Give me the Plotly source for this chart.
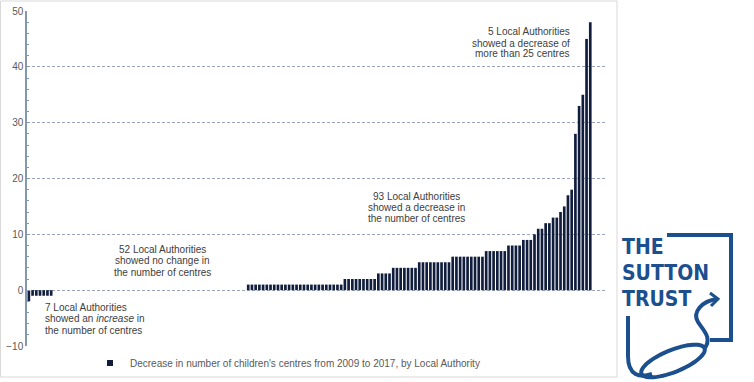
import numpy as np
import plotly.graph_objects as go

# ---------------- data ----------------
# Change (decrease) in number of children's centres 2009-2017, one value per Local Authority, sorted
increase_las = [-2, -1, -1, -1, -1, -1, -1]
no_change_las = [0, 0, 0, 0, 0, 0, 0, 0, 0, 0, 0, 0, 0,
                 0, 0, 0, 0, 0, 0, 0, 0, 0, 0, 0, 0, 0,
                 0, 0, 0, 0, 0, 0, 0, 0, 0, 0, 0, 0, 0,
                 0, 0, 0, 0, 0, 0, 0, 0, 0, 0, 0, 0, 0]
decrease_las = [1, 1, 1, 1, 1, 1, 1, 1, 1, 1, 1, 1, 1,
                1, 1, 1, 1, 1, 1, 1, 1, 1, 1, 1, 1, 1,
                2, 2, 2, 2, 2, 2, 2, 2, 2,
                3, 3, 3, 3,
                4, 4, 4, 4, 4, 4, 4,
                5, 5, 5, 5, 5, 5, 5, 5, 5,
                6, 6, 6, 6, 6, 6, 6, 6, 6,
                7, 7, 7, 7, 7, 7,
                8, 8, 8, 8,
                9, 9, 9,
                10, 11, 11, 12, 12, 13, 13, 14, 15, 17, 18,
                28, 33, 35, 45, 48]
values = increase_las + no_change_las + decrease_las
authority = list(range(1, len(values) + 1))

y_ticks = [-10, 0, 10, 20, 30, 40, 50]
series_name = "Decrease in number of children's centres from 2009 to 2017, by Local Authority"

# ---------------- geometry helpers (pixel -> paper, margins are zero) ----------------
W, H = 754, 382
def PX(x):
    return x / W
def PY(y):
    return 1 - y / H

BAR = "#101d3c"
TXT = "#404040"
AX = "#8497b0"
LOGO = "#1c4f8e"
FONT = "Liberation Sans, Arial, sans-serif"

fig = go.Figure()
fig.add_trace(go.Bar(x=authority, y=values, marker=dict(color=BAR, line=dict(width=0)),
                     showlegend=False, hoverinfo="y"))
fig.add_trace(go.Scatter(x=[None], y=[None], mode="markers", name=series_name,
                         marker=dict(symbol="square", size=6, color=BAR)))

fig.update_layout(
    width=W, height=H,
    margin=dict(l=0, r=0, t=0, b=0, pad=0, autoexpand=False),
    paper_bgcolor="white", plot_bgcolor="white",
    bargap=0.28,
    font=dict(family=FONT, size=10, color=TXT),
    xaxis=dict(domain=[PX(27), PX(607)], range=[0.5, 156.5], showgrid=False, automargin=False,
               showticklabels=False, ticks="", showline=False, zeroline=False),
    yaxis=dict(domain=[PY(346), PY(11)], range=[-10, 50], tickvals=y_ticks, automargin=False,
               showgrid=True, gridcolor="#9aa6b8", griddash="3px,2px", gridwidth=1,
               zeroline=False, showline=True, linecolor=AX, linewidth=1.5,
               ticks="inside", ticklen=3, tickcolor=AX,
               minor=dict(dtick=2, ticks="inside", ticklen=2, tickcolor=AX, showgrid=False),
               tickfont=dict(family=FONT, size=10, color="#595959")),
    legend=dict(orientation="h", x=PX(90), xanchor="left", y=PY(363), yanchor="middle",
                font=dict(family=FONT, size=10, color="#595959"), bgcolor="rgba(0,0,0,0)"),
)

annots = []
def line(text, x, y, anchor="center"):
    annots.append(dict(text=text, x=PX(x), y=PY(y), xref="paper", yref="paper",
                       xanchor=anchor, yanchor="middle", showarrow=False,
                       font=dict(family=FONT, size=10, color=TXT)))

for t, yy in zip(["5 Local Authorities", "showed a decrease of", "more than 25 centres"], [32, 43, 54]):
    line(t, 572, yy, "right")
for t, yy in zip(["93 Local Authorities", "showed a decrease in", "the number of centres"], [196, 207, 218]):
    line(t, 417, yy)
for t, yy in zip(["52 Local Authorities", "showed no change in", "the number of centres"], [249, 260.5, 272]):
    line(t, 162, yy)
for t, yy in zip(["7 Local Authorities", "showed an <i>increase</i> in", "the number of centres"], [307, 318.5, 330]):
    line(t, 43, yy, "left")

# logo text
LFONT = "DejaVu Sans Condensed, DejaVu Sans, sans-serif"
for t, yy in zip(["THE", "SUTTON", "TRUST"], [247.0, 273.0, 299.0]):
    annots.append(dict(text="<b>" + t + "</b>", x=PX(620), y=PY(yy), xref="paper", yref="paper",
                       xanchor="left", yanchor="middle", showarrow=False,
                       font=dict(family=LFONT, size=21, color=LOGO)))
fig.update_layout(annotations=annots)

def path(cmds):
    out = []
    for c, pts in cmds:
        s = c
        s += " ".join(f"{PX(x):.5f},{PY(y):.5f}" for x, y in pts)
        out.append(s)
    return " ".join(out)

shapes = []
# chart frame
shapes.append(dict(type="rect", xref="paper", yref="paper", x0=PX(0.5), x1=PX(617),
                   y0=PY(377), y1=PY(1), line=dict(color="#d9d9d9", width=1), layer="below"))
lw = dict(color=LOGO, width=4)
# square outline
shapes.append(dict(type="path", xref="paper", yref="paper", line=lw,
                   path=path([("M", [(667, 235)]), ("L", [(731, 235)]), ("L", [(731, 340)]), ("L", [(710, 340)])])))
# left stem into loop
shapes.append(dict(type="path", xref="paper", yref="paper", line=lw,
                   path=path([("M", [(628, 316)]), ("L", [(628, 356)]),
                              ("C", [(628, 376), (640, 378), (652, 374)])])))
# loop (tilted ellipse)
t = np.linspace(0, 2 * np.pi, 60)
cx, cy, a, b, ang = 673, 361, 34, 11, np.deg2rad(-22)
ex = cx + a * np.cos(t) * np.cos(ang) - b * np.sin(t) * np.sin(ang)
ey = cy + a * np.cos(t) * np.sin(ang) + b * np.sin(t) * np.cos(ang)
pts = list(zip(ex, ey))
shapes.append(dict(type="path", xref="paper", yref="paper", line=lw,
                   path=path([("M", [pts[0]])] + [("L", [p]) for p in pts[1:]]) + " Z"))
# S-curve up to arrow
shapes.append(dict(type="path", xref="paper", yref="paper", line=lw,
                   path=path([("M", [(704, 349)]), ("C", [(713, 338), (703, 330), (698, 322)]),
                              ("C", [(692, 312), (702, 301), (717, 299)])])))
shapes.append(dict(type="path", xref="paper", yref="paper", line=dict(color=LOGO, width=3),
                   path=path([("M", [(710, 293)]), ("L", [(718, 299)]), ("L", [(711, 306)])])))
fig.update_layout(shapes=shapes)

fig.write_html("out.html", config={"displayModeBar": False},
               post_script="document.body.style.margin='0';")
